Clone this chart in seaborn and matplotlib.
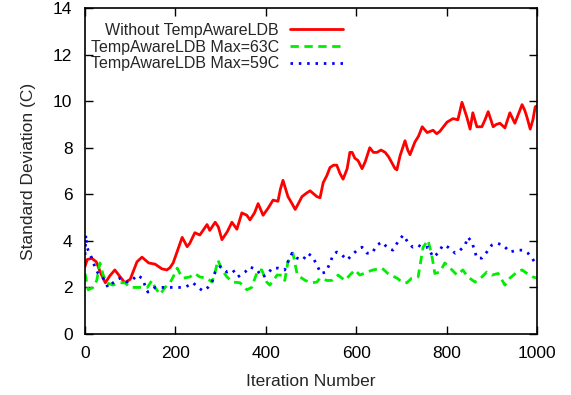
import pandas as pd
import numpy as np
import seaborn as sns
import matplotlib.pyplot as plt

# Values
red_iter = [0, 5, 15, 25, 35, 45, 55, 66, 78, 88, 100, 115, 126, 141, 155, 170, 181, 188, 195,
            205, 215, 226, 232, 243, 254, 270, 276, 288, 295, 303, 315, 325, 336, 347, 358, 365,
            375, 383, 394, 405, 416, 427, 432, 438, 449, 458, 465, 472, 480, 490, 498, 507, 513,
            520, 527, 535, 542, 550, 557, 564, 571, 580, 586, 591, 597, 604, 613, 620, 630, 638,
            646, 655, 664, 672, 679, 686, 690, 697, 708, 714, 719, 725, 730, 738, 746, 757, 770,
            778, 785, 793, 801, 814, 825, 834, 840, 845, 852, 858, 867, 878, 885, 892, 903, 910,
            918, 929, 940, 951, 960, 967, 973, 978, 985, 991, 996, 1000]
red_std = [2.9, 3.2, 3.25, 3.1, 2.6, 2.2, 2.5, 2.75, 2.45, 2.2, 2.35, 3.1, 3.3, 3.05, 3.0, 2.8,
           2.75, 2.85, 3.05, 3.6, 4.15, 3.75, 3.9, 4.35, 4.25, 4.7, 4.45, 4.8, 4.6, 4.05, 4.4,
           4.8, 4.5, 5.2, 5.1, 4.9, 5.2, 5.6, 5.1, 5.4, 5.75, 5.7, 6.2, 6.6, 5.9, 5.6, 5.35, 5.6,
           5.9, 6.05, 6.15, 6.0, 5.9, 5.85, 6.5, 6.8, 7.15, 7.25, 7.25, 6.9, 6.65, 7.1, 7.8, 7.8,
           7.55, 7.45, 7.1, 7.4, 8.0, 7.8, 7.8, 7.9, 7.8, 7.6, 7.35, 7.1, 7.05, 7.65, 8.3, 7.9,
           7.7, 8.0, 8.25, 8.5, 8.9, 8.65, 8.75, 8.6, 8.7, 8.9, 9.1, 9.25, 9.2, 9.95, 9.6, 9.3,
           8.8, 9.5, 8.9, 8.9, 9.2, 9.55, 8.9, 9.0, 9.05, 8.85, 9.5, 9.05, 9.5, 9.85, 9.6, 9.3,
           8.8, 9.2, 9.75, 9.8]

green_iter = [0, 7, 18, 26, 33, 40, 48, 62, 77, 88, 100, 115, 128, 138, 148, 155, 166, 177, 188,
              195, 204, 210, 217, 232, 243, 254, 270, 281, 288, 294, 303, 314, 327, 343, 358, 369,
              376, 383, 391, 402, 409, 425, 436, 442, 449, 460, 469, 476, 487, 502, 513, 520, 535,
              546, 560, 575, 586, 597, 608, 624, 637, 657, 670, 690, 704, 712, 723, 737, 748, 759,
              768, 774, 785, 796, 812, 823, 836, 847, 863, 878, 889, 900, 914, 929, 940, 956, 967,
              978, 991, 1000]
green_std = [2.6, 1.9, 2.0, 2.3, 3.05, 2.55, 2.2, 2.1, 2.2, 2.2, 2.0, 2.0, 2.0, 2.0, 2.3, 2.0,
             1.7, 2.0, 2.2, 2.45, 2.83, 2.6, 2.4, 2.45, 2.6, 2.45, 2.4, 2.23, 2.66, 3.18, 2.75,
             2.45, 2.23, 2.2, 1.9, 2.0, 2.4, 2.75, 2.75, 2.23, 2.1, 2.53, 2.53, 2.3, 3.1, 3.47,
             2.6, 2.45, 2.3, 2.2, 2.23, 2.4, 2.3, 2.3, 2.53, 2.3, 2.53, 2.75, 2.53, 2.66, 2.75,
             2.83, 2.6, 2.4, 2.2, 2.2, 2.4, 2.45, 3.73, 4.03, 3.3, 2.6, 2.66, 3.05, 2.75, 2.53,
             2.75, 2.45, 2.23, 2.45, 2.66, 2.53, 2.6, 2.1, 2.4, 2.66, 2.75, 2.6, 2.45, 2.4]

blue_iter = [0, 2, 4, 15, 22, 29, 40, 51, 62, 77, 93, 104, 115, 126, 139, 155, 170, 184, 204,
             221, 239, 250, 261, 272, 281, 288, 299, 314, 327, 338, 354, 365, 381, 391, 402, 414,
             427, 442, 449, 458, 469, 482, 493, 504, 513, 522, 533, 542, 549, 557, 568, 580, 591,
             602, 613, 624, 635, 646, 657, 670, 681, 692, 704, 714, 725, 737, 748, 759, 770, 781,
             792, 803, 819, 830, 841, 847, 856, 867, 878, 889, 900, 911, 925, 940, 956, 969, 980,
             989, 996, 1000]
blue_std = [3.4, 4.25, 3.73, 3.26, 2.88, 2.6, 2.4, 2.0, 2.2, 2.4, 2.23, 2.3, 2.53, 2.4, 1.8, 2.0,
            2.0, 2.0, 2.0, 2.0, 2.2, 2.0, 1.85, 2.0, 2.23, 2.66, 2.9, 2.66, 2.75, 2.45, 2.66,
            2.88, 2.75, 2.45, 2.53, 2.83, 2.83, 2.75, 3.1, 3.47, 3.26, 3.18, 3.47, 3.3, 2.96,
            2.6, 2.66, 3.05, 3.4, 3.52, 3.4, 3.18, 3.4, 3.6, 3.73, 3.47, 3.47, 3.82, 3.95, 3.69,
            3.6, 3.95, 4.25, 3.95, 3.73, 3.82, 3.69, 3.73, 3.3, 3.47, 3.82, 3.73, 3.47, 3.6,
            3.82, 4.16, 3.95, 3.26, 3.26, 3.52, 3.82, 3.9, 3.82, 3.52, 3.6, 3.6, 3.47, 3.26,
            3.05, 3.0]

labels = ["Without TempAwareLDB", "TempAwareLDB Max=63C", "TempAwareLDB Max=59C"]

sns.set_style("ticks")
plt.rcParams['font.family'] = ['Liberation Sans', 'DejaVu Sans']

fig = plt.figure(figsize=(5.71, 3.95), dpi=100)
ax = fig.add_axes([85 / 571, 61 / 395, 452 / 571, 326 / 395])

red_df = pd.DataFrame({'Iteration': red_iter, 'Std': red_std})
green_df = pd.DataFrame({'Iteration': green_iter, 'Std': green_std})
blue_df = pd.DataFrame({'Iteration': blue_iter, 'Std': blue_std})

sns.lineplot(data=red_df, x='Iteration', y='Std', ax=ax, color='#ff0000', lw=2.0,
             label=labels[0], sort=False, estimator=None)
sns.lineplot(data=green_df, x='Iteration', y='Std', ax=ax, color='#00ee00', lw=2.0,
             label=labels[1], sort=False, estimator=None)
sns.lineplot(data=blue_df, x='Iteration', y='Std', ax=ax, color='#0000ff', lw=2.0,
             label=labels[2], sort=False, estimator=None)
ax.lines[1].set_dashes([3.0, 2.0])
ax.lines[2].set_dashes([0.9, 2.1])

ax.set_xlim(0, 1000)
ax.set_ylim(0, 14)
ax.set_xticks(range(0, 1001, 200))
ax.set_yticks(range(0, 15, 2))
ax.tick_params(direction='in', length=6, width=1, top=True, right=True,
               labelsize=12.5, colors='black')
ax.tick_params(axis='x', pad=9)
ax.tick_params(axis='y', pad=9)
for s in ax.spines.values():
    s.set_visible(True)
    s.set_linewidth(1.2)
    s.set_color('black')
ax.set_xlabel('Iteration Number', fontsize=12.5, labelpad=9)
ax.set_ylabel('Standard Deviation (C)', fontsize=12.5, labelpad=12)

leg = ax.legend(loc='upper right', bbox_to_anchor=(343 / 571, 372 / 395),
                bbox_transform=fig.transFigure, markerfirst=False, frameon=False,
                fontsize=11.5, handlelength=3.3, handletextpad=0.7, labelspacing=0.1,
                borderpad=0, borderaxespad=0)
for line in leg.get_lines():
    line.set_linewidth(2)

fig.savefig('out.png', dpi=100)
